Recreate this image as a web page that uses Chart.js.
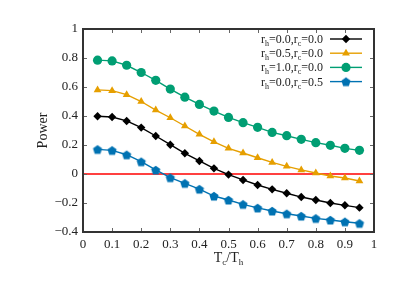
<!DOCTYPE html>
<html><head><meta charset="utf-8">
<script src="https://cdn.jsdelivr.net/npm/chart.js@4"></script>
<style>html,body{margin:0;padding:0;background:#fff}#wrap{width:415px;height:291px}</style>
</head><body><div id="wrap"><canvas id="c" width="415" height="291"></canvas></div>
<script>
const xValues = [0.05,0.10,0.15,0.20,0.25,0.30,0.35,0.40,0.45,0.50,0.55,0.60,0.65,0.70,0.75,0.80,0.85,0.90,0.95];
const series00 = [0.398,0.393,0.366,0.320,0.262,0.202,0.143,0.090,0.039,-0.004,-0.041,-0.076,-0.106,-0.133,-0.159,-0.179,-0.200,-0.216,-0.232];
const series05 = [0.580,0.575,0.547,0.500,0.441,0.388,0.331,0.274,0.222,0.177,0.145,0.112,0.080,0.053,0.028,0.007,-0.014,-0.028,-0.048];
const series10 = [0.785,0.780,0.750,0.700,0.646,0.586,0.530,0.480,0.434,0.390,0.354,0.322,0.287,0.264,0.239,0.216,0.198,0.177,0.163];
const seriesC05 = [0.170,0.163,0.133,0.085,0.028,-0.025,-0.064,-0.104,-0.152,-0.179,-0.209,-0.234,-0.255,-0.274,-0.290,-0.306,-0.317,-0.329,-0.340];
const xTicks = [0,0.1,0.2,0.3,0.4,0.5,0.6,0.7,0.8,0.9,1];
const yTicks = [-0.4,-0.2,0,0.2,0.4,0.6,0.8,1];
const legendRows = [
  {h:'0.0', c:'0.0'},
  {h:'0.5', c:'0.0'},
  {h:'1.0', c:'0.0'},
  {h:'0.0', c:'0.5'}
];
const colors = ['#000000','#E69F00','#009E73','#0072B2'];

function pentagon(color, r){
  const cv = document.createElement('canvas');
  const s = Math.ceil(r*2+2); cv.width = s; cv.height = s;
  const g = cv.getContext('2d');
  g.fillStyle = color; g.beginPath();
  for(let i=0;i<5;i++){
    const a = -Math.PI/2 + i*2*Math.PI/5;
    const px = s/2 + r*Math.cos(a), py = s/2 + r*Math.sin(a)+0.5;
    if(i===0) g.moveTo(px,py); else g.lineTo(px,py);
  }
  g.closePath(); g.fill();
  return cv;
}
const pent = pentagon(colors[3], 4.8);

const pts = arr => xValues.map((x,i)=>({x:x, y:arr[i]}));
const FONT = '"Liberation Serif","Times New Roman",serif';

const datasets = [
  {data:pts(series00), borderColor:colors[0], backgroundColor:colors[0], pointStyle:'rectRot', pointRadius:4.2, borderWidth:1.4},
  {data:pts(series05), borderColor:colors[1], backgroundColor:colors[1], pointStyle:'triangle', pointRadius:4.5, borderWidth:1.4},
  {data:pts(series10), borderColor:colors[2], backgroundColor:colors[2], pointStyle:'circle', pointRadius:4.6, borderWidth:1.4},
  {data:pts(seriesC05), borderColor:colors[3], backgroundColor:colors[3], pointStyle:pent, pointRadius:4.5, borderWidth:1.4}
];
datasets.forEach(d=>{d.pointBorderWidth=0; d.fill=false; d.tension=0; d.clip=false;});

function drawSub(ctx, parts, x, y, align, size, subSize){
  const base = size+'px '+FONT, sub = subSize+'px '+FONT;
  let w = 0;
  parts.forEach(p=>{ctx.font = p[1]?sub:base; w += ctx.measureText(p[0]).width;});
  let cx = align==='right' ? x - w : (align==='center' ? x - w/2 : x);
  ctx.textAlign='left'; ctx.textBaseline='alphabetic';
  parts.forEach(p=>{ctx.font = p[1]?sub:base; ctx.fillText(p[0], cx, p[1]? y+3 : y); cx += ctx.measureText(p[0]).width;});
}

const framePlugin = {
  id:'frame',
  beforeDatasetsDraw(chart){
    const {ctx, chartArea:a, scales:{y}} = chart;
    ctx.save();
    ctx.strokeStyle='#ff0000'; ctx.lineWidth=1.3;
    const y0 = y.getPixelForValue(0);
    ctx.beginPath(); ctx.moveTo(a.left,y0); ctx.lineTo(a.right,y0); ctx.stroke();
    ctx.restore();
  },
  afterDatasetsDraw(chart){
    const {ctx, chartArea:a, scales:{x,y}} = chart;
    ctx.save();
    ctx.strokeStyle='#666'; ctx.lineWidth=1;
    xTicks.forEach(v=>{
      const px = Math.round(x.getPixelForValue(v))+0.5;
      ctx.beginPath(); ctx.moveTo(px,a.bottom); ctx.lineTo(px,a.bottom-4); ctx.stroke();
      ctx.beginPath(); ctx.moveTo(px,a.top); ctx.lineTo(px,a.top+4); ctx.stroke();
    });
    yTicks.forEach(v=>{
      const py = Math.round(y.getPixelForValue(v))+0.5;
      ctx.beginPath(); ctx.moveTo(a.left,py); ctx.lineTo(a.left+4,py); ctx.stroke();
      ctx.beginPath(); ctx.moveTo(a.right,py); ctx.lineTo(a.right-4,py); ctx.stroke();
    });
    ctx.strokeStyle='#333'; ctx.lineWidth=2;
    ctx.strokeRect(a.left, a.top, a.right-a.left, a.bottom-a.top);
    // legend
    legendRows.forEach((r,i)=>{
      const ly = 39 + i*14.2;
      ctx.fillStyle='#222';
      drawSub(ctx, [['r',0],['h',1],['='+r.h+',r',0],['c',1],['='+r.c,0]], 323, ly+4, 'right', 12, 8);
      ctx.strokeStyle=colors[i]; ctx.lineWidth=1.4;
      ctx.beginPath(); ctx.moveTo(330,ly); ctx.lineTo(362,ly); ctx.stroke();
      const ds = datasets[i];
      ctx.fillStyle=colors[i]; ctx.strokeStyle=colors[i];
      Chart.helpers.drawPoint(ctx, {pointStyle:ds.pointStyle, radius:ds.pointRadius, borderWidth:0, rotation:0}, 346, ly);
    });
    ctx.restore();
    // axis titles
    ctx.save();
    ctx.fillStyle='#222';
    drawSub(ctx, [['T',0],['c',1],['/T',0],['h',1]], (a.left+a.right)/2, 262, 'center', 14, 9);
    ctx.translate(47, (a.top+a.bottom)/2);
    ctx.rotate(-Math.PI/2);
    ctx.font='14px '+FONT; ctx.textAlign='center'; ctx.textBaseline='alphabetic';
    ctx.fillText('Power',0,0);
    ctx.restore();
  }
};

const fmt = v => { const r = Math.round(v*10)/10; if (Math.abs(r)<1e-9) return '0'; return (r<0?'\u2212':'') + String(Math.abs(r)); };

new Chart(document.getElementById('c'), {
  type:'line',
  data:{datasets},
  options:{
    responsive:false, animation:false, devicePixelRatio:1,
    layout:{padding:{left:0, right:41, top:29, bottom:0}},
    plugins:{legend:{display:false}, tooltip:{enabled:false}},
    scales:{
      x:{type:'linear', min:0, max:1,
        afterFit(s){s.height = 59;},
        afterBuildTicks(s){s.ticks = xTicks.map(v=>({value:v}));},
        grid:{display:false, drawTicks:false}, border:{display:false},
        ticks:{padding:5, color:'#222', font:{family:FONT, size:13}, callback:fmt, maxRotation:0, autoSkip:false}
      },
      y:{type:'linear', min:-0.4, max:1,
        afterFit(s){s.width = 83;},
        afterBuildTicks(s){s.ticks = yTicks.map(v=>({value:v}));},
        grid:{display:false, drawTicks:false}, border:{display:false},
        ticks:{padding:5, color:'#222', font:{family:FONT, size:13}, callback:fmt, autoSkip:false}
      }
    }
  },
  plugins:[framePlugin]
});
</script></body></html>
